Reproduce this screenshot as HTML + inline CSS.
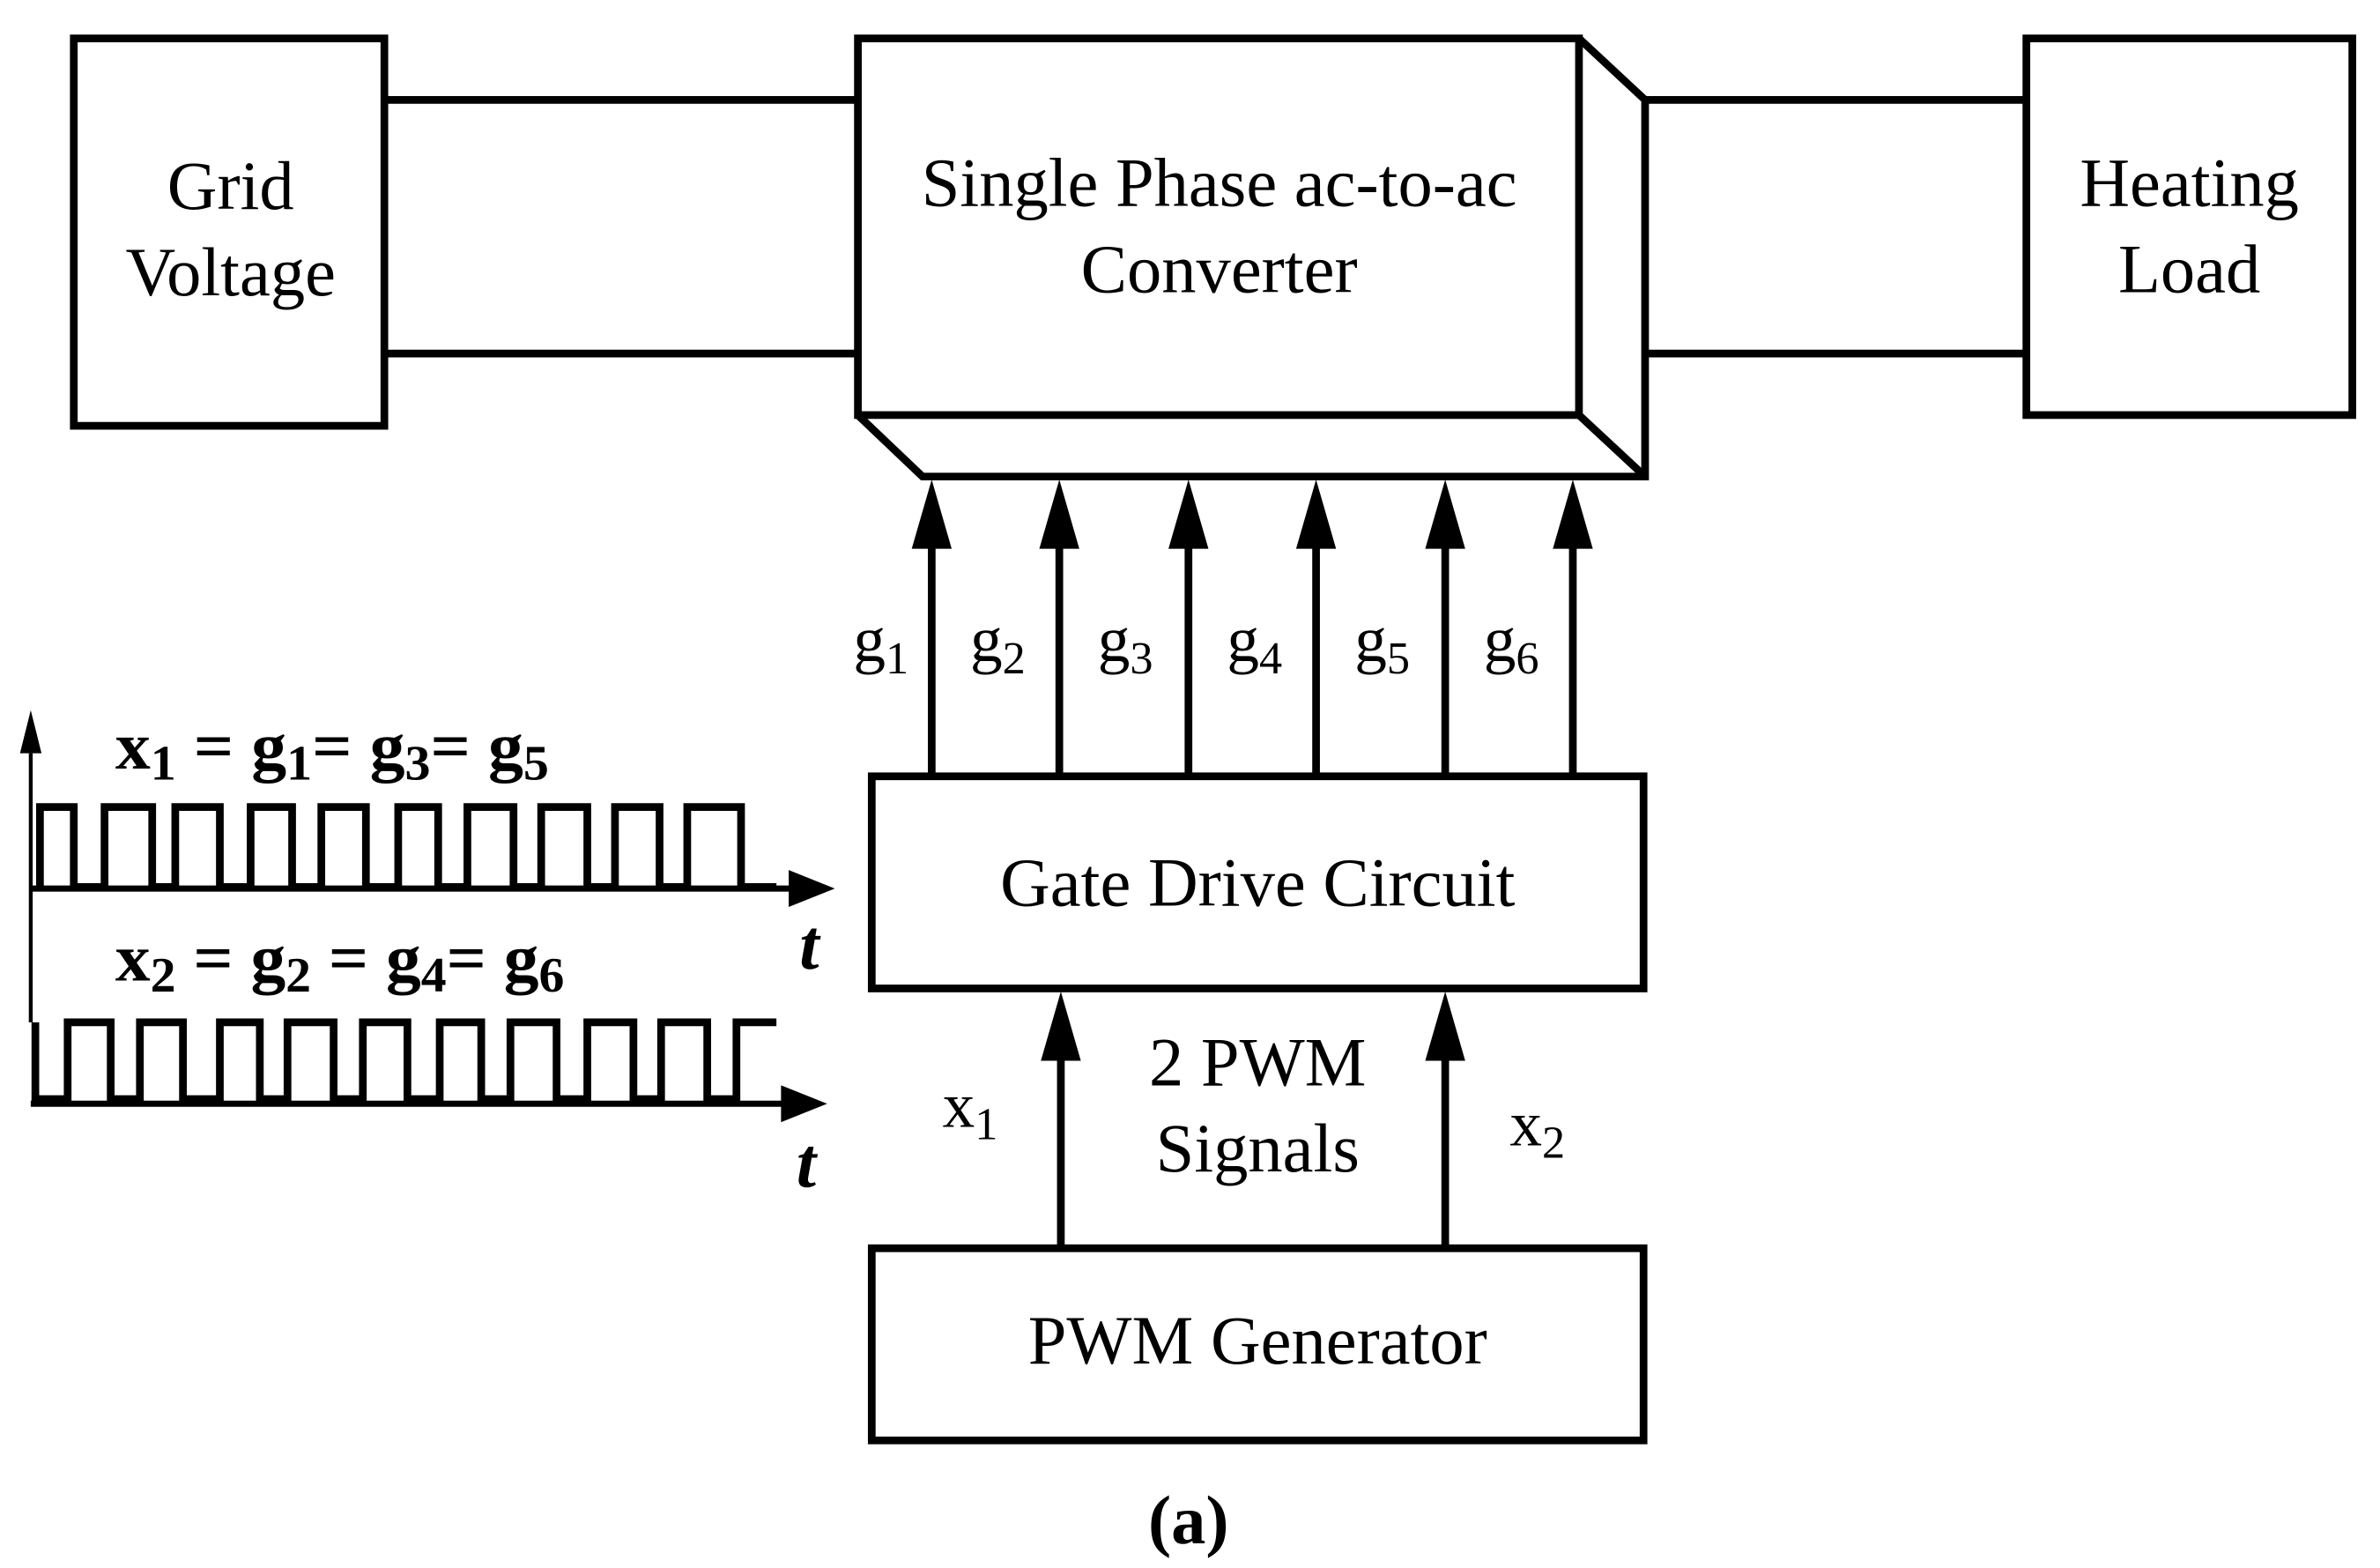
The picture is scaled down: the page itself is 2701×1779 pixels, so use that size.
<!DOCTYPE html>
<html><head><meta charset="utf-8"><style>html,body{margin:0;padding:0;background:#fff}svg{display:block}</style></head>
<body>
<svg width="2701" height="1779" viewBox="0 0 1548 1020" preserveAspectRatio="none" xmlns="http://www.w3.org/2000/svg" font-family="'Liberation Serif', serif">
<g fill="none" stroke="#000" stroke-width="5" stroke-linejoin="miter">
<rect x="48" y="25" width="202" height="252"/>
<line x1="250" y1="65" x2="558" y2="65"/>
<line x1="250" y1="230" x2="558" y2="230"/>
<rect x="558" y="25" width="469" height="245"/>
<polyline points="1027,25 1070,65 1070,310 600,310 558,270"/>
<line x1="1027" y1="270" x2="1070" y2="310"/>
<line x1="1070" y1="65" x2="1318" y2="65"/>
<line x1="1070" y1="230" x2="1318" y2="230"/>
<rect x="1318" y="25" width="212" height="245"/>
<rect x="567" y="505" width="502" height="138"/>
<rect x="567" y="812" width="502" height="125"/>
<line x1="606" y1="505" x2="606" y2="350"/>
<line x1="689" y1="505" x2="689" y2="350"/>
<line x1="773" y1="505" x2="773" y2="350"/>
<line x1="856" y1="505" x2="856" y2="350"/>
<line x1="940" y1="505" x2="940" y2="350"/>
<line x1="1023" y1="505" x2="1023" y2="350"/>
<line x1="690" y1="812" x2="690" y2="685"/>
<line x1="940" y1="812" x2="940" y2="685"/>
</g>
<g fill="#000">
<polygon points="606,312 593,357 619,357"/>
<polygon points="689,312 676,357 702,357"/>
<polygon points="773,312 760,357 786,357"/>
<polygon points="856,312 843,357 869,357"/>
<polygon points="940,312 927,357 953,357"/>
<polygon points="1023,312 1010,357 1036,357"/>
<polygon points="690,645 677,690 703,690"/>
<polygon points="940,645 927,690 953,690"/>
</g>
<g font-size="45" text-anchor="middle">
<text x="150" y="136">Grid</text>
<text x="150" y="192">Voltage</text>
<text x="793" y="134">Single Phase ac-to-ac</text>
<text x="793" y="190">Converter</text>
<text x="1424" y="134">Heating</text>
<text x="1424" y="190">Load</text>
<text x="818" y="589">Gate Drive Circuit</text>
<text x="818" y="706">2 PWM</text>
<text x="818" y="762">Signals</text>
<text x="818" y="887">PWM Generator</text>
<text x="773" y="1004" font-weight="bold">(a)</text>
</g>
<g font-size="42">
<text x="555" y="430">g<tspan font-size="30" dy="8">1</tspan></text>
<text x="631" y="430">g<tspan font-size="30" dy="8">2</tspan></text>
<text x="714" y="430">g<tspan font-size="30" dy="8">3</tspan></text>
<text x="798" y="430">g<tspan font-size="30" dy="8">4</tspan></text>
<text x="881" y="430">g<tspan font-size="30" dy="8">5</tspan></text>
<text x="965" y="430">g<tspan font-size="30" dy="8">6</tspan></text>
<text x="613" y="733">x<tspan font-size="30" dy="8">1</tspan></text>
<text x="982" y="745">x<tspan font-size="30" dy="8">2</tspan></text>
</g>
<g font-size="44" font-weight="bold">
<text x="75" y="500" textLength="282" lengthAdjust="spacingAndGlyphs">x<tspan font-size="32" dy="7">1</tspan><tspan dy="-7"> = g</tspan><tspan font-size="32" dy="7">1</tspan><tspan dy="-7">= g</tspan><tspan font-size="32" dy="7">3</tspan><tspan dy="-7">= g</tspan><tspan font-size="32" dy="7">5</tspan></text>
<text x="75" y="638" textLength="292" lengthAdjust="spacingAndGlyphs">x<tspan font-size="32" dy="7">2</tspan><tspan dy="-7"> = g</tspan><tspan font-size="32" dy="7">2</tspan><tspan dy="-7"> = g</tspan><tspan font-size="32" dy="7">4</tspan><tspan dy="-7">= g</tspan><tspan font-size="32" dy="7">6</tspan></text>
</g>
<g font-size="46" font-weight="bold" font-style="italic">
<text x="520" y="630">t</text>
<text x="518" y="772">t</text>
</g>
<g fill="none" stroke="#000">
<line x1="20" y1="490" x2="20" y2="665" stroke-width="2.5"/>
<line x1="20" y1="578" x2="520" y2="578" stroke-width="4"/>
<line x1="20" y1="718" x2="515" y2="718" stroke-width="4"/>
<polyline stroke-width="5" points="26,577 26,525 48,525 48,577 68,577 68,525 99,525 99,577 114,577 114,525 143,525 143,577 163,577 163,525 190,525 190,577 209,577 209,525 238,525 238,577 259,577 259,525 285,525 285,577 304,577 304,525 334,525 334,577 352,577 352,525 382,525 382,577 400,577 400,525 429,525 429,577 447,577 447,525 475,525 482,525 482,577 505,577"/>
<polyline stroke-width="5" points="23,665 23,715 44,715 44,665 72,665 72,715 91,715 91,665 119,665 119,715 143,715 143,665 169,665 169,715 187,715 187,665 217,665 217,715 236,715 236,665 265,665 265,715 286,715 286,665 313,665 313,715 332,715 332,665 362,665 362,715 382,715 382,665 412,665 412,715 430,715 430,665 460,665 460,715 479,715 479,665 505,665"/>
</g>
<g fill="#000">
<polygon points="20,462 13,490 27,490"/>
<polygon points="543,578 513,566 513,590"/>
<polygon points="538,718 508,706 508,730"/>
</g>
</svg>
</body></html>
